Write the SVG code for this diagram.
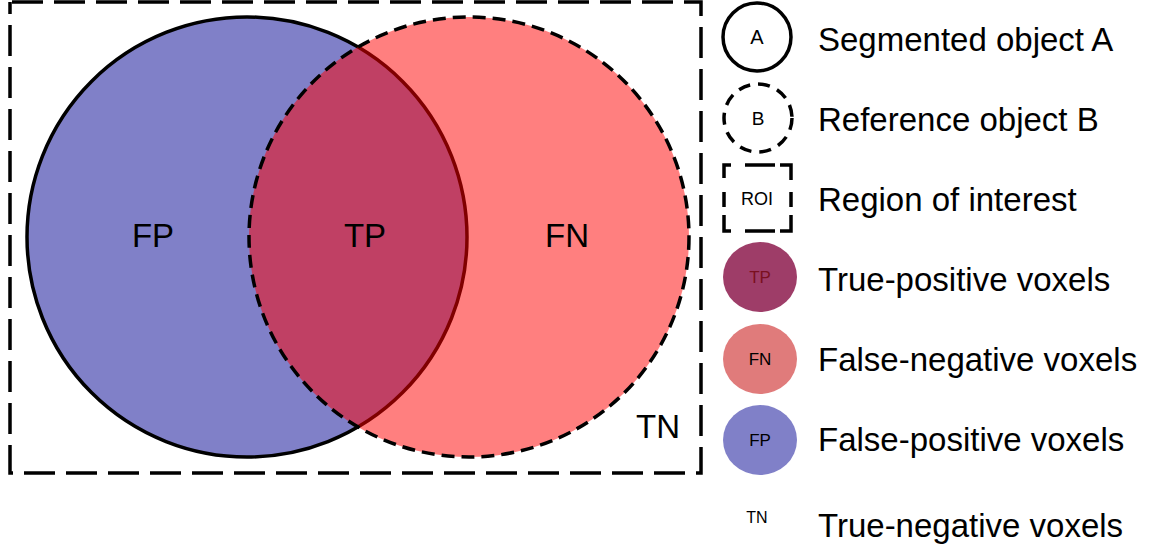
<svg xmlns="http://www.w3.org/2000/svg" width="1158" height="552" viewBox="0 0 1158 552">
  <style>
    .lbl { font-family: "Liberation Sans", Arial, sans-serif; font-size: 33px; fill: #000; }
    .big { font-family: "Liberation Sans", Arial, sans-serif; font-size: 33px; fill: #000; text-anchor: middle; }
    .sm { font-family: "Liberation Sans", Arial, sans-serif; fill: #000; text-anchor: middle; }
  </style>
  <rect width="1158" height="552" fill="#fff"/>

  <!-- region of interest -->
  <g id="roi">
    <rect x="10" y="2" width="691" height="471" fill="none" stroke="#000" stroke-width="3.5" stroke-dasharray="31 11" stroke-dashoffset="40"/>
  </g>

  <!-- segmented object A -->
  <g id="objectA">
    <circle cx="247" cy="237" r="220" fill="#8080C8" stroke="#000" stroke-width="3.5"/>
  </g>

  <!-- reference object B, translucent over A -->
  <g id="objectB">
    <circle cx="469" cy="237" r="220" fill="#FF0000" fill-opacity="0.5"/>
    <circle cx="469" cy="237" r="220" fill="none" stroke="#000" stroke-width="3.5" stroke-dasharray="13 7"/>
  </g>

  <g id="regionLabels">
    <text class="big" x="153" y="247">FP</text>
    <text class="big" x="365" y="247">TP</text>
    <text class="big" x="567" y="247">FN</text>
    <text class="big" x="658" y="438">TN</text>
  </g>

  <!-- legend -->
  <g id="legendA">
    <circle cx="757" cy="37" r="34" fill="none" stroke="#000" stroke-width="3.5"/>
    <text class="sm" x="757" y="44" style="font-size:20px">A</text>
    <text class="lbl" x="818" y="51">Segmented object A</text>
  </g>
  <g id="legendB">
    <circle cx="758" cy="118" r="34" fill="none" stroke="#000" stroke-width="3.5" stroke-dasharray="12 8"/>
    <text class="sm" x="758" y="125" style="font-size:19px">B</text>
    <text class="lbl" x="818" y="131">Reference object B</text>
  </g>
  <g id="legendROI" fill="none" stroke="#000" stroke-width="3.5">
    <path d="M731,165 H724 V178 M745,165 H775 M780,165 H791 V180 M791,192 V207 M791,215 V231 H780 M775,231 H745 M731,231 H724 V215 M724,207 V192"/>
    <text class="sm" x="757" y="205" stroke="none" style="font-size:18px">ROI</text>
    <text class="lbl" x="818" y="211" stroke="none">Region of interest</text>
  </g>
  <g id="legendTP">
    <ellipse cx="760" cy="277" rx="37" ry="35" fill="#9E3D68"/>
    <text class="sm" x="760" y="283" style="font-size:17px;fill:#7A1020">TP</text>
    <text class="lbl" x="818" y="291">True-positive voxels</text>
  </g>
  <g id="legendFN">
    <ellipse cx="760" cy="359" rx="37" ry="35" fill="#E07B7B"/>
    <text class="sm" x="760" y="365" style="font-size:17px">FN</text>
    <text class="lbl" x="818" y="371">False-negative voxels</text>
  </g>
  <g id="legendFP">
    <ellipse cx="760" cy="440" rx="37" ry="35" fill="#8080C8"/>
    <text class="sm" x="760" y="446" style="font-size:17px">FP</text>
    <text class="lbl" x="818" y="451">False-positive voxels</text>
  </g>
  <g id="legendTN">
    <text class="sm" x="757" y="523" style="font-size:16px">TN</text>
    <text class="lbl" x="818" y="537">True-negative voxels</text>
  </g>
</svg>
